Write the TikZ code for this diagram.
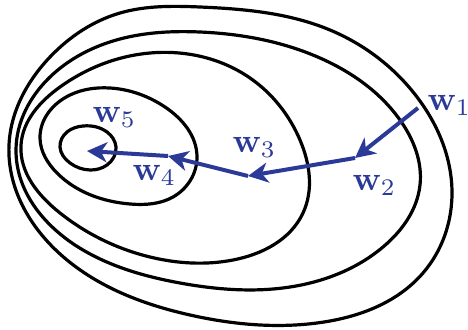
\documentclass[tikz,border=0pt]{standalone}
\usetikzlibrary{arrows.meta,hobby}
\definecolor{wblue}{RGB}{42,58,150}
\begin{document}
\begin{tikzpicture}[x=1pt,y=-1pt,
  contour/.style={line width=3.2pt,black,use Hobby shortcut,closed=true},
  stepline/.style={line width=4pt,wblue,-{Stealth[length=20pt,width=20pt,inset=6pt]}},
  lbl/.style={text=wblue,anchor=base west,inner sep=0pt,scale=3.4}]
\useasboundingbox (0,0) rectangle (468,329);
% contours
\draw[contour] (200,7) .. (330,30) .. (417,97) .. (452,193) .. (423,273) .. (317,323) .. (190,315) .. (67,260) .. (9,145) .. (50,57) .. (120,13) .. (200,7);
\draw[contour] (200,32) .. (320,58) .. (400,120) .. (420,185) .. (383,247) .. (290,287) .. (180,283) .. (83,250) .. (16,150) .. (50,77) .. (120,39) .. (200,32);
\draw[contour] (150,53) .. (250,78) .. (300,140) .. (303,213) .. (233,260) .. (150,257) .. (60,213) .. (21,145) .. (60,87) .. (150,53);
\draw[contour] (197,157) .. (173,197) .. (130,204) .. (57,173) .. (40,138) .. (70,95) .. (110,88) .. (165,107) .. (197,157);
\draw[contour] (116,147) .. (107,165) .. (90,170) .. (70,163) .. (60,147) .. (67,132) .. (83,126) .. (107,132) .. (116,147);
% iterates
\coordinate (p1) at (418,108);
\coordinate (p2) at (355,158);
\coordinate (p3) at (248,176);
\coordinate (p4) at (168,156);
\coordinate (p5) at (87,151);
\draw[stepline] (p1) -- (p2);
\draw[stepline] (p2) -- (p3);
\draw[stepline] (p3) -- (p4);
\draw[stepline] (p4) -- (p5);
% labels
\node[lbl] (l1) at (427,110) {$\mathbf{w}_1$};
\node[lbl] (l2) at (352,190) {$\mathbf{w}_2$};
\node[lbl] (l3) at (232,152) {$\mathbf{w}_3$};
\node[lbl] (l4) at (132,180) {$\mathbf{w}_4$};
\node[lbl] (l5) at (92,122) {$\mathbf{w}_5$};
\end{tikzpicture}
\end{document}
